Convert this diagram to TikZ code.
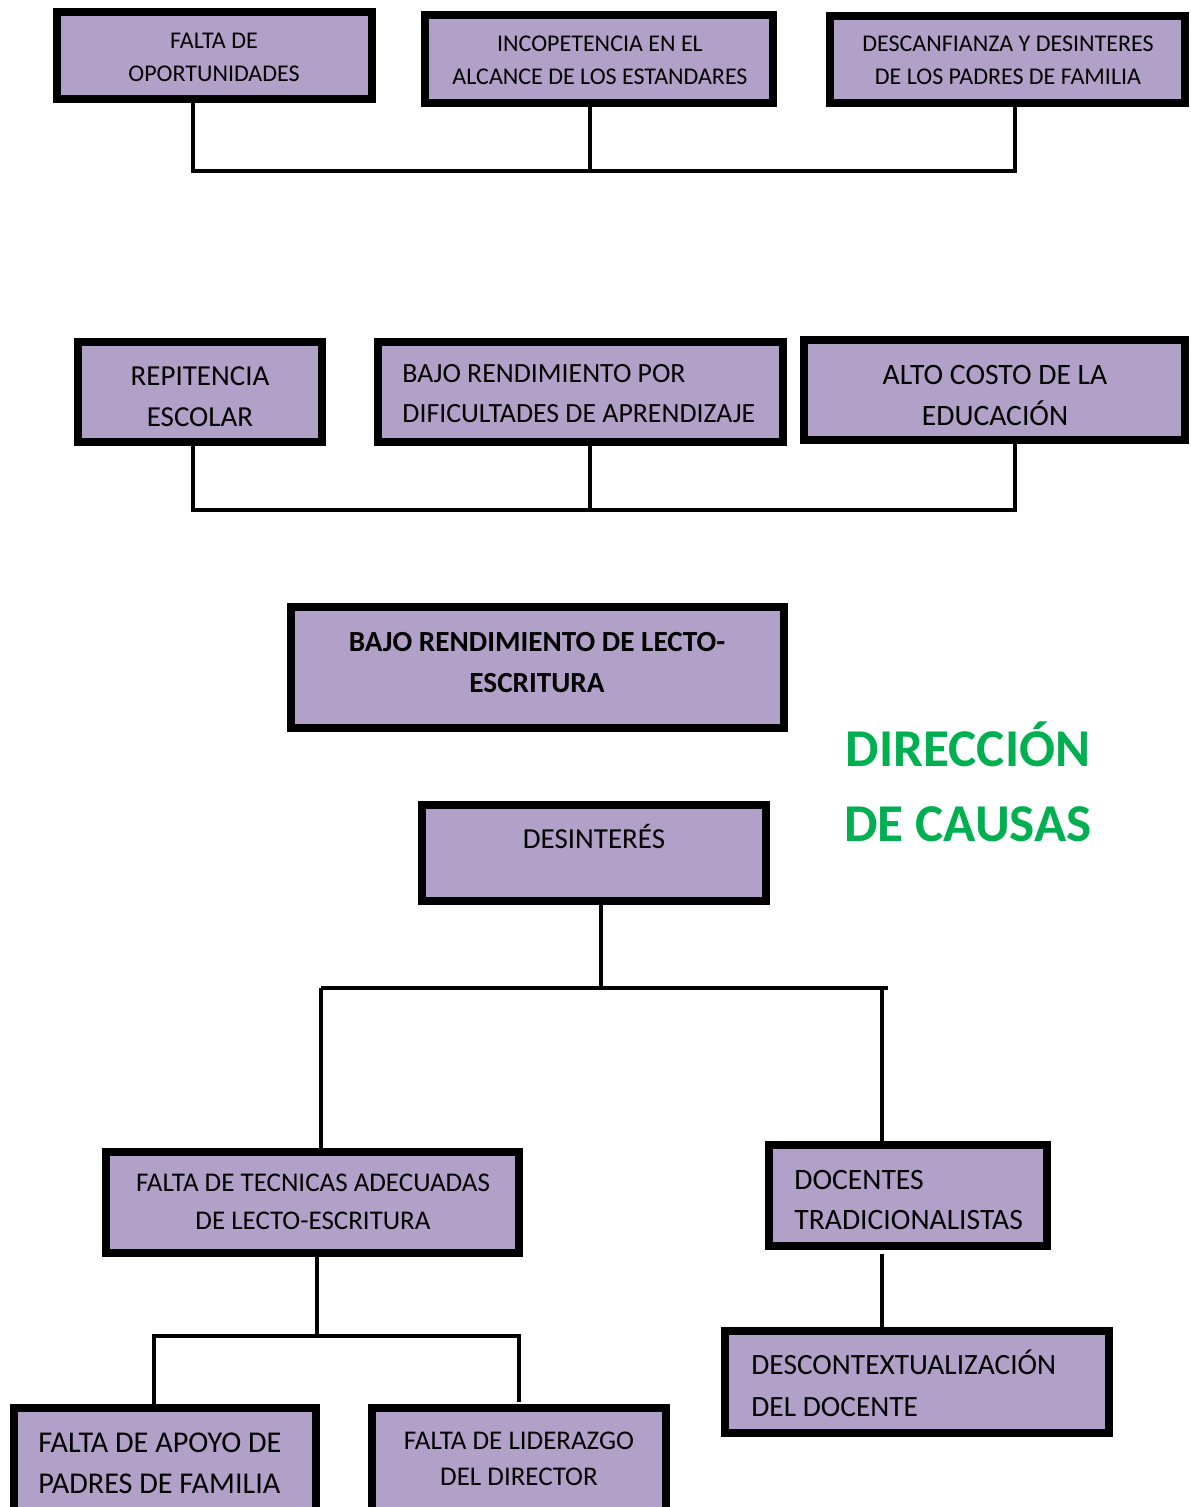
\documentclass[tikz,border=0pt]{standalone}
\usepackage{fontspec}
\setmainfont{Carlito}
\usetikzlibrary{fit}
\definecolor{boxfill}{HTML}{B1A0C7}
\definecolor{titlegreen}{HTML}{00B050}
\begin{document}
\begin{tikzpicture}[x=0.5pt,y=-0.5pt,
  box/.style={draw=black, line width=4pt, fill=boxfill, inner sep=0pt, rectangle},
  lbl/.style={inner sep=0pt, align=center, text=black},
  lbll/.style={inner sep=0pt, align=left, anchor=west, text=black},
  conn/.style={draw=black, line width=2pt},
  fsA/.style={font=\fontsize{12}{16.5}\selectfont},
  fsB/.style={font=\fontsize{14.5}{20.5}\selectfont},
  fsC/.style={font=\fontsize{13.9}{20}\selectfont},
  fsD/.style={font=\fontsize{13.5}{19}\selectfont},
  fsT/.style={font=\fontsize{26.6}{37.5}\selectfont\bfseries, text=titlegreen, inner sep=0pt, align=center}
]
\useasboundingbox (0,0) rectangle (1190,1507);
\clip (0,0) rectangle (1190,1507);

% ---- top row ----
\node[box, fit={(57,12) (372,99)}] (b1) {};
\node[box, fit={(425,15) (773,103)}] (b2) {};
\node[box, fit={(830,16) (1185,103)}] (b3) {};
\node[lbl, fsA] (t1) at (214,57) {FALTA DE\\OPORTUNIDADES};
\node[lbl, fsA] (t2) at (600,60) {INCOPETENCIA EN EL\\ALCANCE DE LOS ESTANDARES};
\node[lbl, fsA] (t3) at (1008,60) {DESCANFIANZA Y DESINTERES\\DE LOS PADRES DE FAMILIA};
\coordinate (ja) at (193,171);
\coordinate (jb) at (590,171);
\coordinate (jc) at (1015,171);
\draw[conn] (b1.south -| ja) -- (ja) -- (jc) -- (b3.south -| jc);
\draw[conn] (b2.south -| jb) -- (jb);

% ---- second row ----
\node[box, fit={(78,342) (322,442)}] (b4) {};
\node[box, fit={(378,342) (783,442)}] (b5) {};
\node[box, fit={(804,340) (1185,440)}] (b6) {};
\node[lbl, fsB] (t4) at (200,396.5) {REPITENCIA\\ESCOLAR};
\node[lbll, fsC] (t5) at (402,394) {BAJO RENDIMIENTO POR\\DIFICULTADES DE APRENDIZAJE};
\node[lbl, font=\fontsize{14.8}{20.5}\selectfont] (t6) at (995,395.5) {ALTO COSTO DE LA\\EDUCACIÓN};
\coordinate (jd) at (193,510);
\coordinate (je) at (590,510);
\coordinate (jf) at (1015,510);
\draw[conn] (b4.south -| jd) -- (jd) -- (jf) -- (b6.south -| jf);
\draw[conn] (b5.south -| je) -- (je);

% ---- main problem ----
\node[box, fit={(291,607) (784,728)}] (b7) {};
\node[lbl, font=\fontsize{14.6}{20.5}\selectfont\bfseries] (t7) at (537,662.5) {BAJO RENDIMIENTO DE LECTO-\\ESCRITURA};

\node[fsT] (title) at (968,781.5) {DIRECCIÓN\\DE CAUSAS};

% ---- causes ----
\node[box, fit={(422,805) (766,901)}] (b8) {};
\node[lbl, fsB] (t8) at (594,836) {DESINTERÉS};
\coordinate (jg) at (601,988);
\coordinate (jh) at (321,988);
\coordinate (ji) at (882,988);
\coordinate (jiend) at (888,988);
\draw[conn] (b8.south -| jg) -- (jg);
\draw[conn] (jh) -- (jiend);

\node[box, fit={(106,1152) (519,1253)}] (b9) {};
\node[lbl, fsD] (t9) at (313,1202) {FALTA DE TECNICAS ADECUADAS\\DE LECTO-ESCRITURA};
\node[box, fit={(769,1145) (1047,1246)}] (b10) {};
\node[lbll, font=\fontsize{14.8}{20}\selectfont] (t10) at (794,1200) {DOCENTES\\TRADICIONALISTAS};
\draw[conn] (jh) -- (b9.north -| jh);
\draw[conn] (ji) -- (b10.north -| ji);

\node[box, fit={(725,1331) (1109,1433)}] (b11) {};
\node[lbll, font=\fontsize{14.7}{21}\selectfont] (t11) at (751,1383) {DESCONTEXTUALIZACIÓN\\DEL DOCENTE};
\coordinate (jk) at (882,1254);
\draw[conn] (jk) -- (b11.north -| jk);

\coordinate (jl) at (317,1336);
\coordinate (jm) at (154,1336);
\coordinate (jn) at (519,1336);
\coordinate (jmend) at (154,1405);
\coordinate (jnend) at (519,1402);
\draw[conn] (b9.south -| jl) -- (jl);
\draw[conn] (jmend) -- (jm) -- (jn) -- (jnend);

\node[box, fit={(14,1408) (316,1511)}] (b12) {};
\node[lbll, font=\fontsize{15.1}{20.5}\selectfont] (t12) at (38,1463.5) {FALTA DE APOYO DE\\PADRES DE FAMILIA};
\node[box, fit={(372,1408) (666,1511)}] (b13) {};
\node[lbl, font=\fontsize{13.5}{18}\selectfont] (t13) at (519,1459) {FALTA DE LIDERAZGO\\DEL DIRECTOR};
\end{tikzpicture}
\end{document}
